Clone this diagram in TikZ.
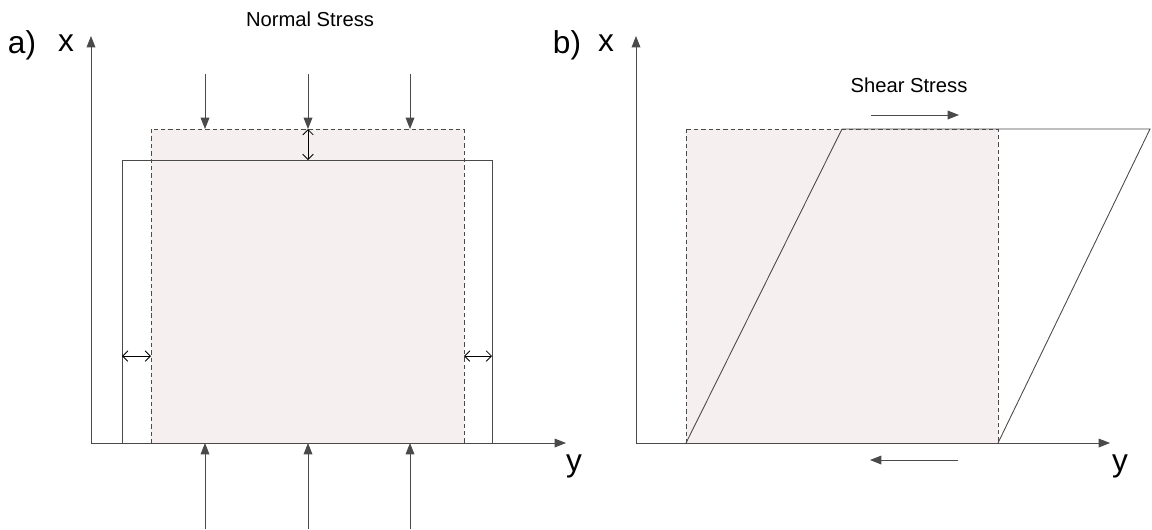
\documentclass[tikz,border=0pt]{standalone}
\usepackage{fontspec}
\setmainfont{Liberation Sans}
\usepackage{tikz}
\usetikzlibrary{arrows.meta, positioning}

\definecolor{lineGray}{HTML}{4A4A4A}
\definecolor{sampleFill}{HTML}{F5EFF0}

\begin{document}
\begin{tikzpicture}[
        x=0.02cm, y=-0.02cm,
        axis/.style     ={draw=lineGray, line width=0.5pt, -{Triangle[length=6.5pt, width=5pt]}},
        load/.style     ={draw=lineGray, line width=0.5pt, -{Triangle[length=6.5pt, width=5pt]}},
        original/.style ={draw=lineGray, line width=0.5pt, dash pattern=on 2.5pt off 1.7pt, fill=sampleFill},
        deformed/.style ={draw=lineGray, line width=0.5pt},
        gap/.style      ={draw=black, line width=0.5pt, {Straight Barb[length=3pt, width=6pt]}-{Straight Barb[length=3pt, width=6pt]}},
        panel/.style    ={font=\fontsize{18}{20}\selectfont, inner sep=0pt},
        title/.style    ={font=\fontsize{11.5}{13}\selectfont, inner sep=0pt}
    ]
    \useasboundingbox (0,0) rectangle (1152,529);

    % --- a) normal stress ---
    \coordinate (oa) at (91,443);
    \coordinate (xa) at (91,36);
    \coordinate (ya) at (566,443);

    \draw[original] (151,129) rectangle (464,443);
    \draw[deformed] (122,443) -- (122,160) -- (492,160) -- (492,443);
    \draw[axis] (oa) -- (xa);
    \draw[axis] (oa) -- (ya);

    \node[panel] (la) at (22,45) {a)};
    \node[panel] (xla) at (66,43) {x};
    \node[panel] (yla) at (574,466) {y};
    \node[title] (normal) at (310,19) {Normal Stress};

    \foreach \px [count=\i] in {205,308,410} {
        \coordinate (t\i) at (\px,74);
        \coordinate (tt\i) at (\px,129);
        \coordinate (b\i) at (\px,529);
        \coordinate (bb\i) at (\px,443);
        \draw[load] (t\i) -- (tt\i);
        \draw[load] (b\i) -- (bb\i);
    }

    \coordinate (g1) at (308,129);
    \coordinate (g2) at (308,160);
    \coordinate (l1) at (122,356);
    \coordinate (l2) at (151,356);
    \coordinate (r1) at (464,356);
    \coordinate (r2) at (492,356);
    \draw[gap] (g1) -- (g2);
    \draw[gap] (l1) -- (l2);
    \draw[gap] (r1) -- (r2);

    % --- b) shear stress ---
    \coordinate (ob) at (636,443);
    \coordinate (xb) at (636,36);
    \coordinate (yb) at (1110,443);

    \draw[original] (686,129) rectangle (998,443);
    \draw[deformed] (686,443) -- (842,129) -- (1150,129) -- (998,443);
    \draw[axis] (ob) -- (xb);
    \draw[axis] (ob) -- (yb);

    \node[panel] (lb) at (567,45) {b)};
    \node[panel] (xlb) at (606,43) {x};
    \node[panel] (ylb) at (1120,466) {y};
    \node[title] (shear) at (909,85) {Shear Stress};

    \coordinate (s1) at (871,115);
    \coordinate (s2) at (959,115);
    \coordinate (s3) at (958,460);
    \coordinate (s4) at (870,460);
    \draw[load] (s1) -- (s2);
    \draw[load] (s3) -- (s4);

\end{tikzpicture}
\end{document}
